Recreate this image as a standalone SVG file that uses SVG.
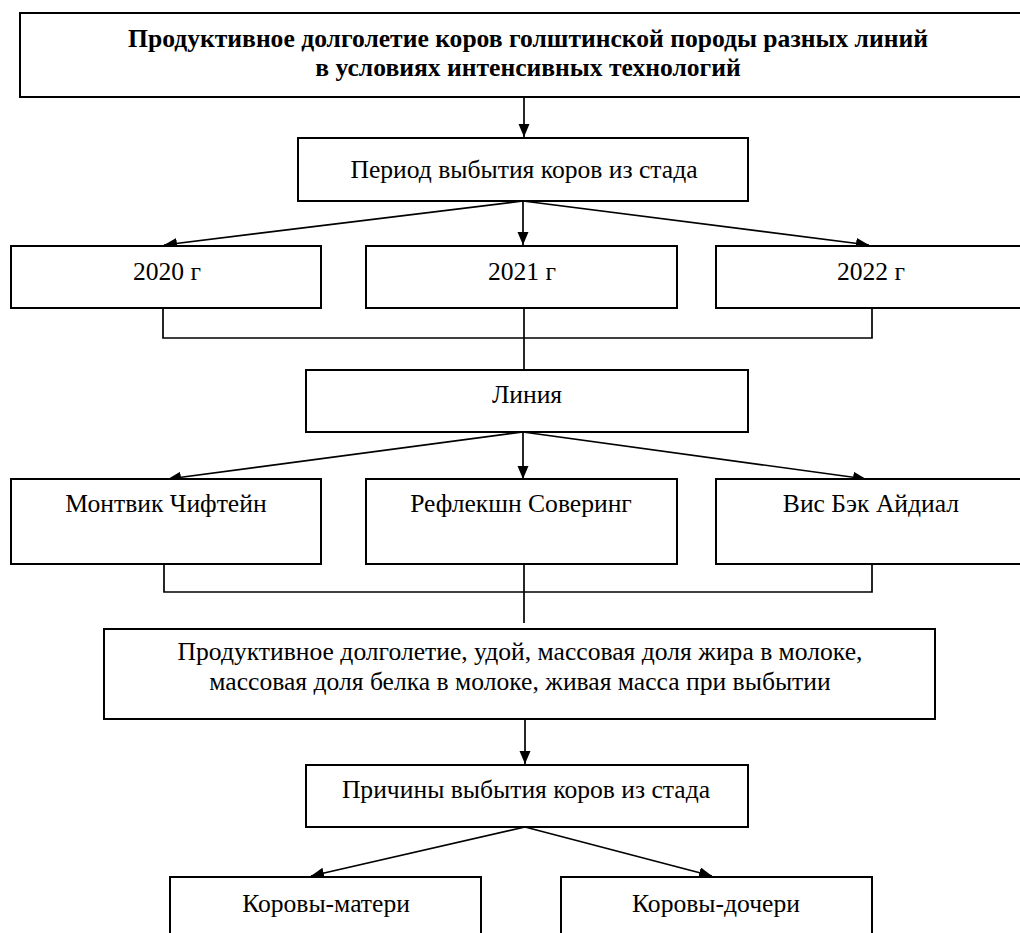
<svg xmlns="http://www.w3.org/2000/svg" width="1020" height="933" viewBox="0 0 1020 933">
<style>
.box{fill:#fff;stroke:#000;stroke-width:2}
.t{font-family:"Liberation Serif","Times New Roman",serif;font-size:25.6px;fill:#000;text-anchor:middle}
.b{font-weight:bold}
.c{fill:none;stroke:#000;stroke-width:1.7}
</style>
<defs>
<marker id="ah" markerUnits="userSpaceOnUse" markerWidth="14" markerHeight="12" refX="13" refY="5.5" orient="auto">
<path d="M0,0 L13,5.5 L0,11 z" fill="#000"/>
</marker>
</defs>
<rect width="1020" height="933" fill="#fff"/>
<g id="connectors">
<line class="c" x1="524" y1="97" x2="524" y2="137" marker-end="url(#ah)"/>
<line class="c" x1="523" y1="201" x2="164" y2="245" marker-end="url(#ah)"/>
<line class="c" x1="523" y1="201" x2="523" y2="245" marker-end="url(#ah)"/>
<line class="c" x1="523" y1="201" x2="869" y2="245" marker-end="url(#ah)"/>
<polyline class="c" points="163,308 163,338 872,338 872,308"/>
<line class="c" x1="524" y1="308" x2="524" y2="370"/>
<line class="c" x1="523" y1="432" x2="168" y2="479" marker-end="url(#ah)"/>
<line class="c" x1="523" y1="432" x2="523" y2="479" marker-end="url(#ah)"/>
<line class="c" x1="523" y1="432" x2="866" y2="479" marker-end="url(#ah)"/>
<polyline class="c" points="164,564 164,592 872,592 872,564"/>
<line class="c" x1="524" y1="564" x2="524" y2="623"/>
<line class="c" x1="525" y1="719" x2="525" y2="764" marker-end="url(#ah)"/>
<line class="c" x1="525" y1="827" x2="311" y2="876" marker-end="url(#ah)"/>
<line class="c" x1="525" y1="827" x2="712" y2="876" marker-end="url(#ah)"/>
</g>
<g id="title">
<rect class="box" x="20" y="13" width="1010" height="84"/>
<text class="t b" x="528" y="47">Продуктивное долголетие коров голштинской породы разных линий</text>
<text class="t b" x="528" y="76">в условиях интенсивных технологий</text>
</g>
<g id="period">
<rect class="box" x="298" y="138" width="450" height="63"/>
<text class="t" x="524" y="178">Период выбытия коров из стада</text>
</g>
<g id="y2020">
<rect class="box" x="11" y="246" width="310" height="62"/>
<text class="t" x="167" y="280">2020 г</text>
</g>
<g id="y2021">
<rect class="box" x="366" y="246" width="311" height="62"/>
<text class="t" x="522" y="280">2021 г</text>
</g>
<g id="y2022">
<rect class="box" x="716" y="246" width="311" height="62"/>
<text class="t" x="871" y="280">2022 г</text>
</g>
<g id="line">
<rect class="box" x="306" y="370" width="442" height="62"/>
<text class="t" x="527" y="403">Линия</text>
</g>
<g id="montvik">
<rect class="box" x="11" y="479" width="310" height="85"/>
<text class="t" x="166" y="512">Монтвик Чифтейн</text>
</g>
<g id="reflection">
<rect class="box" x="366" y="479" width="311" height="85"/>
<text class="t" x="521" y="512">Рефлекшн Соверинг</text>
</g>
<g id="visback">
<rect class="box" x="716" y="479" width="311" height="85"/>
<text class="t" x="871" y="512">Вис Бэк Айдиал</text>
</g>
<g id="traits">
<rect class="box" x="104" y="629" width="831" height="90"/>
<text class="t" x="520" y="660">Продуктивное долголетие, удой, массовая доля жира в молоке,</text>
<text class="t" x="520" y="690">массовая доля белка в молоке, живая масса при выбытии</text>
</g>
<g id="reasons">
<rect class="box" x="306" y="765" width="442" height="62"/>
<text class="t" x="526" y="798">Причины выбытия коров из стада</text>
</g>
<g id="mothers">
<rect class="box" x="170" y="877" width="311" height="70"/>
<text class="t" x="326" y="912">Коровы-матери</text>
</g>
<g id="daughters">
<rect class="box" x="561" y="877" width="311" height="70"/>
<text class="t" x="716" y="912">Коровы-дочери</text>
</g>
</svg>
